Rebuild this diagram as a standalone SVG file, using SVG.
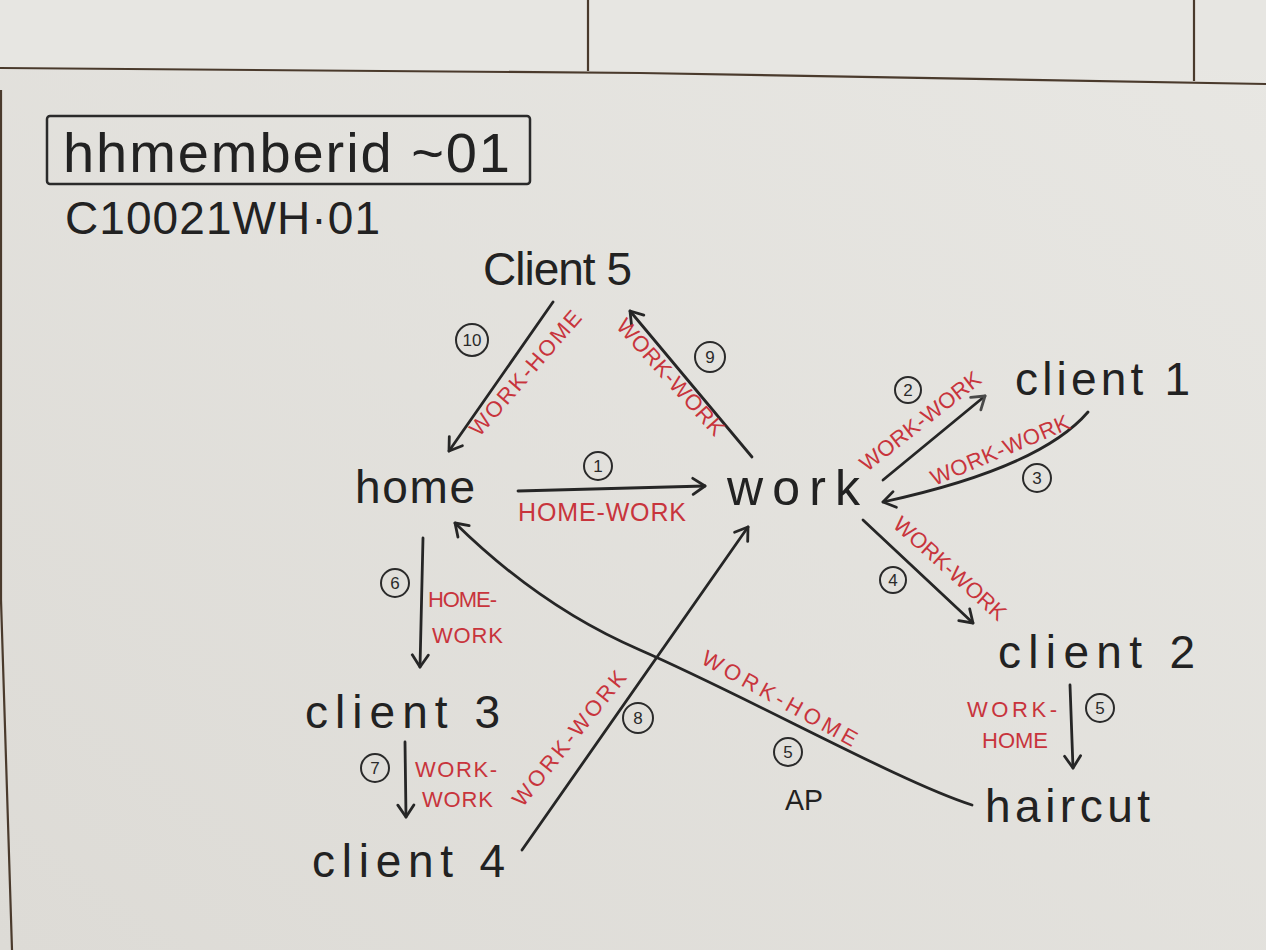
<svg xmlns="http://www.w3.org/2000/svg" width="1266" height="950" viewBox="0 0 1266 950">
  <defs>
    <linearGradient id="paper" x1="1" y1="0" x2="0" y2="1">
      <stop offset="0" stop-color="#e8e7e3"/>
      <stop offset="1" stop-color="#dddbd6"/>
    </linearGradient>
    <marker id="arr" viewBox="-14 -10 18 20" refX="0" refY="0" markerWidth="18" markerHeight="20" markerUnits="userSpaceOnUse" orient="auto">
      <path d="M-12,-8 L0,0 L-12,8" fill="none" stroke="#262626" stroke-width="2.8" stroke-linecap="round" stroke-linejoin="round"/>
    </marker>
    <marker id="arrg" viewBox="-14 -10 18 20" refX="0" refY="0" markerWidth="18" markerHeight="20" markerUnits="userSpaceOnUse" orient="auto">
      <path d="M-12,-8 L0,0 L-12,8" fill="none" stroke="#4a4a4a" stroke-width="2.8" stroke-linecap="round" stroke-linejoin="round"/>
    </marker>
  </defs>
  <style>
    .node { font-family: "Liberation Sans", Arial, sans-serif; font-size: 46px; fill: #222; }
    .red { font-family: "Liberation Sans", Arial, sans-serif; font-size: 22px; fill: #c8343c; }
    .num { font-family: "Liberation Sans", Arial, sans-serif; font-size: 17px; fill: #2a2a2a; text-anchor: middle; }
    .ring { fill: none; stroke: #2a2a2a; stroke-width: 2; }
    .edge { fill: none; stroke: #262626; stroke-width: 2.8; stroke-linecap: round; }
    .rule { fill: none; stroke: #4a3a2c; stroke-width: 2.2; }
  </style>

  <!-- paper -->
  <rect x="0" y="0" width="1266" height="950" fill="url(#paper)"/>
  <rect x="0" y="0" width="1266" height="70" fill="#e7e6e2"/>
  <path class="rule" d="M0,68 L640,73 L1266,84"/>
  <path class="rule" d="M588,0 L588,71"/>
  <path class="rule" d="M1194,0 L1194,81"/>
  <path class="rule" d="M1,90 L1,600 L12,950"/>

  <!-- header -->
  <g id="title">
    <rect x="47" y="116" width="483" height="68" rx="3" fill="none" stroke="#2a2a2a" stroke-width="2.5"/>
    <text class="node" x="63" y="172" style="font-size:56px" textLength="447" lengthAdjust="spacing">hhmemberid ~01</text>
  </g>
  <g id="subtitle">
    <text class="node" x="65" y="234" style="font-size:46px" textLength="315" lengthAdjust="spacing">C10021WH·01</text>
  </g>

  <!-- nodes -->
  <g id="client5"><text class="node" x="483" y="285" textLength="149" lengthAdjust="spacing">Client 5</text></g>
  <g id="home"><text class="node" x="355" y="503" textLength="120" lengthAdjust="spacing">home</text></g>
  <g id="work"><text class="node" x="727" y="505" style="font-size:50px" textLength="133" lengthAdjust="spacing">work</text></g>
  <g id="client1"><text class="node" x="1015" y="395" textLength="175" lengthAdjust="spacing">client 1</text></g>
  <g id="client2"><text class="node" x="998" y="668" textLength="197" lengthAdjust="spacing">client 2</text></g>
  <g id="client3"><text class="node" x="305" y="728" textLength="195" lengthAdjust="spacing">client 3</text></g>
  <g id="client4"><text class="node" x="312" y="877" textLength="193" lengthAdjust="spacing">client 4</text></g>
  <g id="haircut"><text class="node" x="985" y="822" textLength="165" lengthAdjust="spacing">haircut</text></g>

  <!-- connectors -->
  <g id="connectors">
    <!-- 1 home -> work -->
    <path class="edge" d="M518,491 L705,486" marker-end="url(#arr)"/>
    <circle class="ring" cx="598" cy="466" r="14"/><text class="num" x="598" y="472">1</text>
    <text class="red" x="518" y="521" style="font-size:25px" textLength="168" lengthAdjust="spacing">HOME-WORK</text>

    <!-- 2 work -> client 1 -->
    <path class="edge" d="M883,480 L985,396" stroke="#4a4a4a" marker-end="url(#arrg)"/>
    <circle class="ring" cx="908" cy="390" r="13"/><text class="num" x="908" y="396">2</text>
    <text class="red" transform="translate(925,427) rotate(-38)" text-anchor="middle" textLength="147" lengthAdjust="spacing">WORK-WORK</text>

    <!-- 3 client 1 -> work -->
    <path class="edge" d="M1088,412 Q1040,468 883,502" marker-end="url(#arr)"/>
    <circle class="ring" cx="1037" cy="478" r="14"/><text class="num" x="1037" y="484">3</text>
    <text class="red" transform="translate(1003,457) rotate(-23)" text-anchor="middle" textLength="149" lengthAdjust="spacing">WORK-WORK</text>

    <!-- 4 work -> client 2 -->
    <path class="edge" d="M863,520 L973,623" marker-end="url(#arr)"/>
    <circle class="ring" cx="893" cy="580" r="13"/><text class="num" x="893" y="586">4</text>
    <text class="red" transform="translate(945,574) rotate(42)" text-anchor="middle" textLength="143" lengthAdjust="spacing">WORK-WORK</text>

    <!-- 5 client 2 -> haircut -->
    <path class="edge" d="M1070,685 L1073,768" marker-end="url(#arr)"/>
    <circle class="ring" cx="1100" cy="708" r="14"/><text class="num" x="1100" y="714">5</text>
    <text class="red" x="967" y="717" textLength="90" lengthAdjust="spacing">WORK-</text>
    <text class="red" x="982" y="748" textLength="66" lengthAdjust="spacing">HOME</text>

    <!-- 5 haircut -> home -->
    <path class="edge" d="M972,805 C900,782 750,698 640,650 C570,620 508,575 455,523" marker-end="url(#arr)"/>
    <text class="red" transform="translate(776,705) rotate(29)" text-anchor="middle" textLength="174" lengthAdjust="spacing">WORK-HOME</text>
    <circle class="ring" cx="788" cy="752" r="14"/><text class="num" x="788" y="758">5</text>
    <text class="node" x="785" y="810" style="font-size:30px" textLength="38" lengthAdjust="spacingAndGlyphs">AP</text>

    <!-- 6 home -> client 3 -->
    <path class="edge" d="M423,538 L420,667" marker-end="url(#arr)"/>
    <circle class="ring" cx="395" cy="583" r="14"/><text class="num" x="395" y="589">6</text>
    <text class="red" x="428" y="607" textLength="69" lengthAdjust="spacing">HOME-</text>
    <text class="red" x="432" y="643" textLength="71" lengthAdjust="spacing">WORK</text>

    <!-- 7 client 3 -> client 4 -->
    <path class="edge" d="M405,742 L406,817" marker-end="url(#arr)"/>
    <circle class="ring" cx="375" cy="768" r="14"/><text class="num" x="375" y="774">7</text>
    <text class="red" x="415" y="777" textLength="82" lengthAdjust="spacing">WORK-</text>
    <text class="red" x="422" y="807" textLength="71" lengthAdjust="spacing">WORK</text>

    <!-- 8 client 4 -> work -->
    <path class="edge" d="M522,850 L748,527" marker-end="url(#arr)"/>
    <circle class="ring" cx="638" cy="718" r="15"/><text class="num" x="638" y="724">8</text>
    <text class="red" transform="translate(575,743) rotate(-51)" text-anchor="middle" textLength="167" lengthAdjust="spacing">WORK-WORK</text>

    <!-- 9 work -> client 5 -->
    <path class="edge" d="M752,457 L630,311" marker-end="url(#arr)"/>
    <circle class="ring" cx="710" cy="357" r="15"/><text class="num" x="710" y="363">9</text>
    <text class="red" transform="translate(665,382) rotate(48)" text-anchor="middle" textLength="149" lengthAdjust="spacing">WORK-WORK</text>

    <!-- 10 client 5 -> home -->
    <path class="edge" d="M553,302 L449,451" marker-end="url(#arr)"/>
    <circle class="ring" cx="472" cy="340" r="16"/><text class="num" x="472" y="346">10</text>
    <text class="red" transform="translate(531,378) rotate(-49)" text-anchor="middle" textLength="158" lengthAdjust="spacing">WORK-HOME</text>
  </g>
</svg>
